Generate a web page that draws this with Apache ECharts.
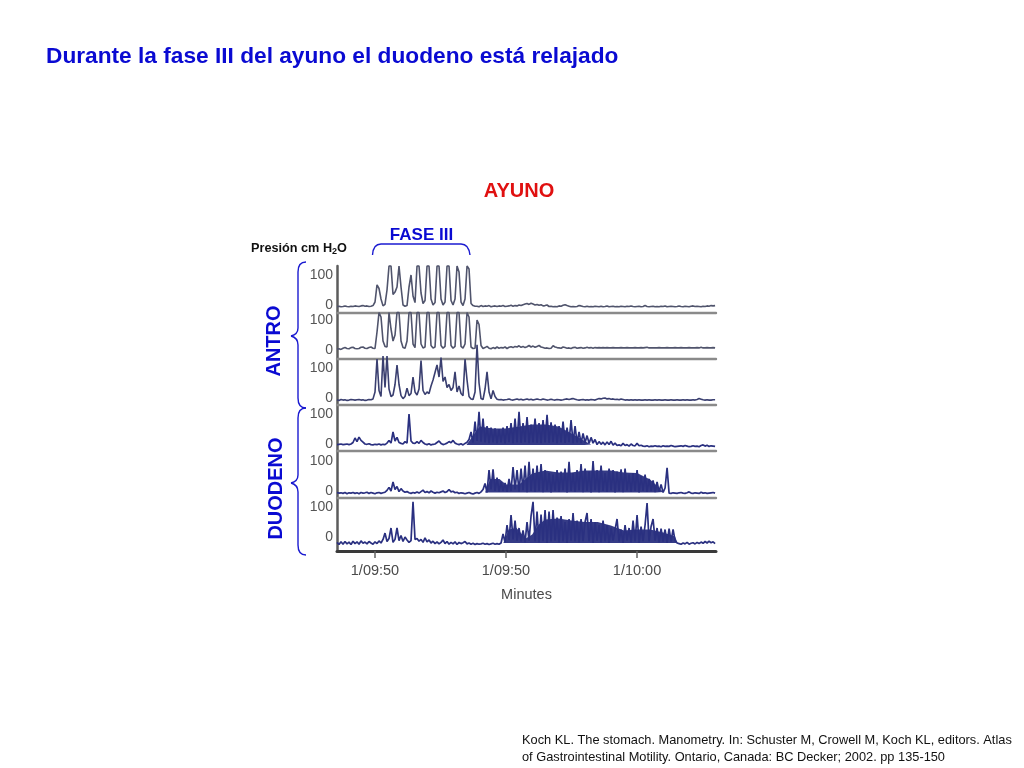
<!DOCTYPE html>
<html><head><meta charset="utf-8">
<style>html,body{margin:0;padding:0;background:#fff}#c{width:1024px;height:768px}</style>
<script src="https://cdn.jsdelivr.net/npm/echarts@6/dist/echarts.min.js"></script>
</head><body><div id="c"></div>
<script>
const tickMinutes=[0,10,20];
const tickLabels=['1/09:50','1/09:50','1/10:00'];
const pressureTicks=[0,100];
const sampleStep=0.1527;
const antro1=[
-5,-4,-6,-5,-3,-5,-6,-4,-5,-3,
-4,-5,-3,-2,-4,-3,-5,-4,-2,10,
67,55,20,-3,2,50,130,130,35,43,
60,130,60,0,-4,-2,60,100,30,8,
130,130,40,5,15,130,130,20,0,8,
130,130,20,0,10,130,130,15,0,20,
130,110,10,-2,20,130,120,5,-2,-4,
-4,-6,-2,-5,-3,-4,-2,-6,-4,-3,
-5,-3,-4,-2,-5,-4,-3,-1,-4,-2,
-3,0,-2,1,3,5,2,6,3,0,
2,-1,1,-3,-2,0,-5,-4,-6,-5,
-6,-3,-4,-1,1,-2,-4,-6,-5,-6,
-5,-2,-3,-5,-6,-4,-6,-5,-6,-4,
-5,-6,-4,-6,-5,-3,-6,-5,-4,-6,
-5,-6,-4,-5,-6,-4,-5,-3,-5,-6,
-5,-4,-6,-5,-2,-5,-6,-5,-4,-6,
-5,-6,-4,-5,-3,-6,-5,-4,-5,-6,
-5,-3,-5,-6,-4,-5,-6,-4,-3,-5,
-4,-5,-6,-4,-5,-3,-4,-2,-3,-2];
const antro2=[
3,4,2,6,8,5,4,8,9,5,
4,5,9,10,6,5,8,10,6,5,
60,125,110,30,12,10,125,70,30,50,
125,125,30,8,6,30,125,125,20,8,
125,125,20,7,10,125,125,15,7,10,
125,125,15,6,12,125,125,15,6,12,
125,125,12,6,20,125,110,10,5,6,
100,85,15,5,8,12,6,4,8,5,
10,6,8,7,10,5,9,11,8,12,
10,14,9,12,8,11,15,10,13,9,
12,15,10,8,6,7,5,6,14,10,
8,7,6,10,8,6,7,5,8,9,
6,7,8,6,7,9,7,8,6,8,
7,8,7,8,7,8,7,7,8,7,
7,7,8,7,7,8,7,7,7,8,
7,7,8,7,8,9,7,7,7,7,
7,8,7,7,7,8,7,7,7,8,
7,7,8,7,7,7,8,7,7,7,
8,7,9,7,7,8,7,7,8,7];
const antro3=[
-6,-8,-5,-7,-6,-8,-7,-5,-6,-7,
-6,-5,-7,-6,-8,-7,-5,-6,-3,20,
130,25,5,140,35,140,30,5,10,45,
110,45,8,-2,5,33,8,15,70,20,
10,30,125,25,12,20,15,40,60,85,
110,70,135,55,70,35,45,25,35,87,
20,40,15,8,130,60,5,-3,-5,20,
177,50,-2,-5,30,87,20,-3,25,5,
-4,-6,-5,-7,-6,-5,-3,-6,-7,-5,
-3,-6,-4,-7,-5,-3,-6,-4,-7,-5,
-3,-5,-6,-3,-5,-7,-6,-4,-6,-7,
-5,-6,-7,-6,-4,-3,-5,-3,-2,-4,
-6,-7,-6,-5,-7,-6,-7,-5,-6,-7,
-4,-2,-3,-1,0,-3,-2,-4,-3,-5,
-4,-6,-3,-5,-7,-6,-7,-6,-7,-6,
-7,-6,-7,-7,-6,-7,-6,-7,-7,-6,
-7,-6,-7,-7,-6,-7,-7,-6,-7,-7,
-6,-7,-7,-6,-7,-6,-7,-7,-6,-7,
-5,-2,-4,-6,-7,-6,-7,-7,-6,-6];
const duodeno1=[
-2,-1,0,-2,-1,0,-2,0,5,20,
8,23,12,6,0,-1,1,-2,-3,-1,
-2,0,-3,-1,-2,3,12,3,40,10,
22,5,2,0,8,3,100,10,3,2,
8,2,12,5,0,-2,1,-3,-1,0,
5,10,2,-2,0,3,8,4,12,3,
0,-2,1,-3,2,6,15,40,5,75,
10,107,8,85,5,60,3,55,5,52,
3,50,5,55,2,60,6,70,3,85,
5,107,4,70,6,90,3,65,5,85,
4,70,3,80,5,97,4,72,6,65,
3,60,5,75,4,55,6,80,3,60,
5,40,3,35,4,28,2,22,3,15,
-2,8,-1,6,-3,7,-2,9,-4,3,
-5,-3,-6,2,-5,-2,-7,0,-5,-6,
2,-6,-4,-7,-8,-6,-9,-7,-8,-6,
-8,-7,-9,-6,-8,-7,-8,-5,-7,-9,
-8,-7,-6,-8,-5,-7,-9,-8,-6,-8,
-7,-9,-5,-3,-7,-4,-8,-6,-7,-8];
const duodeno2=[
-5,-7,-6,-8,-5,-9,-6,-7,-5,-8,
-6,-9,-5,-7,-6,-4,-8,-5,-7,-9,
-6,-5,-8,-6,-4,2,12,0,30,5,
15,-2,8,0,-4,-2,-6,-8,-5,-7,
-3,-7,-2,3,-5,-2,-6,0,-4,-7,
-4,-6,-3,0,-5,-2,5,-3,-1,-6,
-4,-8,-6,-7,-9,-7,-5,-8,-10,-7,
-5,-8,-3,5,25,-5,70,5,72,0,
45,-2,30,0,27,-3,40,0,80,5,
70,-2,75,3,85,-4,97,0,75,-3,
85,0,90,-4,70,2,60,-5,55,0,
70,-3,65,2,75,-5,97,0,60,-3,
70,2,90,-4,75,0,65,-5,100,2,
70,-4,85,0,60,-3,75,2,70,-5,
65,0,72,-4,75,2,55,-3,60,0,
70,-5,50,0,55,-3,40,0,35,-4,
30,-2,22,-5,10,77,-7,-8,-6,-7,
-8,-6,-5,-7,-8,-6,-3,-7,-8,-6,
-7,-8,-4,-7,-6,-8,-7,-6,-5,-7];
const duodeno3=[
-18,-25,-16,-24,-15,-23,-17,-25,-14,-22,
-16,-24,-13,-21,-17,-23,-15,-20,-24,-16,
-22,-13,-20,-8,13,-15,-5,30,-18,-8,
30,-12,5,-15,0,-10,-18,-12,117,-8,
-5,-14,-8,-18,-3,-16,-10,-20,-14,-22,
-16,-23,-18,-10,-22,-15,-24,-18,-23,-16,
-25,-18,-22,-19,-15,-23,-20,-24,-21,-25,
-22,-24,-23,-21,-24,-22,-25,-23,-21,-24,
-22,-24,-20,10,-18,40,-10,73,-8,55,
-12,30,-15,22,-18,50,-12,70,117,-15,
85,-18,75,-14,90,-20,85,-15,90,-12,
65,-18,70,-15,50,-20,60,-12,80,-15,
55,-18,60,-14,50,80,-15,60,-20,50,
-12,40,-18,55,-15,40,-20,30,-12,25,
60,-15,25,-20,40,-12,30,-18,55,-15,
73,-20,35,-14,40,113,-15,35,60,-12,
30,-18,28,-15,25,-20,28,-15,25,-12,
-20,-22,-24,-20,-23,-18,-24,-21,-19,-23,
-18,-22,-17,-21,-15,-20,-14,-19,-16,-22];
const traces=[antro1,antro2,antro3,duodeno1,duodeno2,duodeno3];
const band1=[[7,-2],[7.6,35],[8,58],[9,52],[10,52],[11,58],[12,65],[13,65],[14,58],[15,35],[16,10],[16.5,-2]];
const band2=[[8.4,-5],[8.8,40],[9.5,40],[10,22],[11,22],[11.5,40],[12,58],[13,68],[14,62],[15,62],[16,68],[17,68],[18,68],[19,62],[20,60],[21,38],[21.5,18],[22,-3]];
const band3=[[9.8,-20],[10.2,25],[10.8,30],[11.5,-5],[12,8],[12.5,42],[13,58],[14,62],[15,55],[16,50],[17,50],[18,38],[19,22],[20,25],[21,25],[22,15],[22.9,2],[23.1,-20]];
const bands={3:band1,4:band2,5:band3};
const titleText='Durante la fase III del ayuno el duodeno está relajado';
const citation=['Koch KL. The stomach. Manometry. In: Schuster M, Crowell M, Koch KL, editors. Atlas','of Gastrointestinal Motility. Ontario, Canada: BC Decker; 2002. pp 135-150'];

const panels=[
 {top:266,bottom:313,zero:305,color:'#50546c'},
 {top:313,bottom:359,zero:350,color:'#50546c'},
 {top:359,bottom:405,zero:398,color:'#3a3f70'},
 {top:405,bottom:451,zero:444,color:'#2a3080',base:-3},
 {top:451,bottom:498,zero:491,color:'#2a3080',base:-5},
 {top:498,bottom:551,zero:537,color:'#2a3080',base:-20}];
const pxPerUnit=0.3, BLUE='#0a0ad2', STROKE={stroke:'#1a1ad0',lineWidth:1.4,fill:'none'};
const grid=[],xAxis=[],yAxis=[],series=[];
panels.forEach((p,k)=>{
 const last=k===panels.length-1;
 grid.push({left:337,width:379,top:p.top,height:p.bottom-p.top});
 xAxis.push({type:'value',gridIndex:k,min:-2.9,max:26.03,
  splitLine:{show:false},
  axisLine:{onZero:false,lineStyle:{color:last?'#3a3a3a':'#8a8a8a',width:last?3:2.4}},
  axisTick:{show:last,length:7,customValues:tickMinutes,lineStyle:{color:'#666',width:1.5}},
  axisLabel:{show:last,customValues:tickMinutes,margin:12,color:'#4a4a4a',fontSize:14.5,fontFamily:'Liberation Sans',
    formatter:v=>tickLabels[tickMinutes.indexOf(v)]},
  name:last?'Minutes':'',nameLocation:'middle',nameGap:36,
  nameTextStyle:{color:'#4a4a4a',fontSize:14.5,fontFamily:'Liberation Sans'}});
 yAxis.push({type:'value',gridIndex:k,
  min:-(p.bottom-p.zero)/pxPerUnit,max:(p.zero-p.top)/pxPerUnit,
  splitLine:{show:false},axisTick:{show:false},
  axisLine:{show:true,onZero:false,lineStyle:{color:'#5c5c5c',width:2.5}},
  axisLabel:{customValues:pressureTicks,margin:4,color:'#555',fontSize:14,fontFamily:'Liberation Sans'}});
 if(bands[k]) series.push({type:'line',xAxisIndex:k,yAxisIndex:k,symbol:'none',clip:false,animation:false,z:1,
  lineStyle:{width:0},areaStyle:{color:p.color,opacity:0.95,origin:p.base},data:bands[k]});
 series.push({type:'line',xAxisIndex:k,yAxisIndex:k,symbol:'none',clip:false,animation:false,z:2,
  lineStyle:{color:p.color,width:k>2?1.7:1.6},
  data:traces[k].map((v,i)=>[-2.9+i*sampleStep,v])});
});
const txt=(text,x,y,size,fill,extra)=>Object.assign({type:'text',x,y,
  style:{text,fill,font:'bold '+size+'px "Liberation Sans"',textAlign:'center',textVerticalAlign:'middle'}},extra||{});
const seg=(x1,y1,x2,y2)=>({type:'line',shape:{x1,y1,x2,y2},style:STROKE});
const curve=(x1,y1,cpx1,cpy1,cpx2,cpy2,x2,y2)=>({type:'bezierCurve',shape:{x1,y1,cpx1,cpy1,cpx2,cpy2,x2,y2},style:STROKE});
const sideBrace=(t,tip,b)=>[
 curve(306,t,300,t,298,t+4,298,t+10),seg(298,t+10,298,tip-8),
 curve(298,tip-8,298,tip-3,295,tip-1,291,tip),curve(291,tip,295,tip+1,298,tip+4,298,tip+9),
 seg(298,tip+9,298,b-10),curve(298,b-10,298,b-3,301,b,306,b)];
const graphic=[
 txt('AYUNO',519,191,20,'#e01010'),
 txt('FASE III',421.5,235.5,17,BLUE),
 {type:'text',x:251,y:240,style:{text:'{a|Presión cm H}{s|2}{a|O}',rich:{
   a:{font:'bold 12.7px "Liberation Sans"',fill:'#111'},
   s:{font:'bold 9px "Liberation Sans"',fill:'#111',padding:[7,0,0,0]}}}},
 txt('ANTRO',274,341,20,BLUE,{rotation:Math.PI/2}),
 txt('DUODENO',276,488.5,20,BLUE,{rotation:Math.PI/2}),
 curve(372.5,255,373,247,376,244,381,244),seg(381,244,461,244),curve(461,244,466,244,469,247,470,255),
 ...sideBrace(262,336,408),...sideBrace(408,483,555),
 {type:'text',x:522,y:734,style:{text:citation[0],fill:'#111',font:'12.8px "Liberation Sans"'}},
 {type:'text',x:522,y:751,style:{text:citation[1],fill:'#111',font:'12.8px "Liberation Sans"'}}
];
const chart=echarts.init(document.getElementById('c'),null,{renderer:'canvas'});
chart.setOption({animation:false,backgroundColor:'#fff',
 title:{text:titleText,left:41,top:40,textStyle:{color:BLUE,fontSize:22.7,fontWeight:'bold',fontFamily:'Liberation Sans'}},
 grid,xAxis,yAxis,series,graphic});
</script></body></html>
